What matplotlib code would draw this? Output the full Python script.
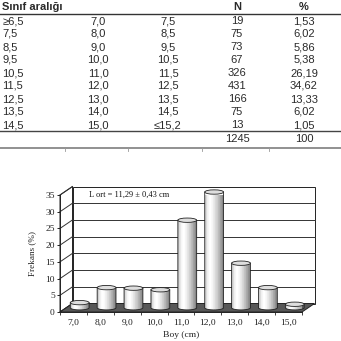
import matplotlib
matplotlib.use("Agg")
import matplotlib.pyplot as plt
from matplotlib.patches import Rectangle, Ellipse, Polygon, PathPatch
from matplotlib.path import Path
from matplotlib.lines import Line2D
import numpy as np

# ---------------- data ----------------
class_low = ["≥6,5", "7,5", "8,5", "9,5", "10,5", "11,5", "12,5", "13,5", "14,5"]
class_mid = ["7,0", "8,0", "9,0", "10,0", "11,0", "12,0", "13,0", "14,0", "15,0"]
class_high = ["7,5", "8,5", "9,5", "10,5", "11,5", "12,5", "13,5", "14,5", "≤15,2"]
counts = [19, 75, 73, 67, 326, 431, 166, 75, 13]
percent_labels = ["1,53", "6,02", "5,86", "5,38", "26,19", "34,62", "13,33", "6,02", "1,05"]
total_n = "1245"
total_pct = "100"

freq = [1.53, 6.02, 5.86, 5.38, 26.19, 34.62, 13.33, 6.02, 1.05]
y_ticks = [0, 5, 10, 15, 20, 25, 30, 35]
note_text = "L ort = 11,29 ± 0,43 cm"

# ---------------- figure ----------------
W = H = 341
fig = plt.figure(figsize=(W / 100, H / 100), dpi=100)
fig.patch.set_facecolor("white")


def fy(ypx):
    return 1 - ypx / H


def fx(xpx):
    return xpx / W


# ---------------- table ----------------
tfont = dict(family="Liberation Sans", fontsize=8.0, color="#2a2a2a")
col_x = [2.5, 98, 168, 237, 304]
fig.text(fx(2.5), fy(7), "Sınıf aralığı", ha="left", va="center",
         fontweight="bold", **tfont)
fig.text(fx(col_x[3]), fy(7), "N", ha="center", va="center", fontweight="bold", **tfont)
fig.text(fx(col_x[4]), fy(7), "%", ha="center", va="center", fontweight="bold", **tfont)
fig.add_artist(Line2D([0, 1], [fy(13.5), fy(13.5)], color="#333333", lw=1.0,
                      transform=fig.transFigure))
row0, dy = 21.0, 13.0
for i in range(len(counts)):
    y = fy(row0 + dy * i)
    fig.text(fx(col_x[0]), y, class_low[i], ha="left", va="center", **tfont)
    fig.text(fx(col_x[1]), y, class_mid[i], ha="center", va="center", **tfont)
    fig.text(fx(col_x[2]), y, class_high[i], ha="center", va="center", **tfont)
    fig.text(fx(col_x[3]), y, str(counts[i]), ha="center", va="center", **tfont)
    fig.text(fx(col_x[4]), y, percent_labels[i], ha="center", va="center", **tfont)
fig.add_artist(Line2D([0, 1], [fy(131), fy(131)], color="#444444", lw=1.0,
                      transform=fig.transFigure))
fig.text(fx(col_x[3]), fy(139), total_n, ha="center", va="center", **tfont)
fig.text(fx(col_x[4]), fy(139), total_pct, ha="center", va="center", **tfont)
fig.add_artist(Line2D([0, 1], [fy(148), fy(148)], color="#888888", lw=1.3,
                      transform=fig.transFigure))
for xs in [65, 128, 202, 269]:
    fig.add_artist(Line2D([fx(xs), fx(xs)], [fy(148), fy(151)], color="#999999",
                          lw=0.6, transform=fig.transFigure))

# ---------------- chart ----------------
x0, x1, ytop, ybot = 60, 302, 195, 312
ax = fig.add_axes([fx(x0), fy(ybot), (x1 - x0) / W, (ybot - ytop) / H])
n = len(freq)
ax.set_xlim(-0.5, n - 0.5)
ax.set_ylim(0, 35)
ax.set_facecolor("none")

px_per_x = (x1 - x0) / n
px_per_y = (ybot - ytop) / 35.0
DDX = 12.5 / px_per_x
DDY = 8.5 / px_per_y
xl, xr = -0.5, n - 0.5

# back wall
ax.add_patch(Rectangle((xl + DDX, DDY), n, 35, fc="white", ec="#222222",
                       lw=0.7, clip_on=False, zorder=0.5))
for t in y_ticks[1:-1]:
    ax.plot([xl + DDX, xr + DDX], [t + DDY, t + DDY], color="#333333", lw=0.7,
            clip_on=False, zorder=0.6)
# left wall
ax.add_patch(Polygon([(xl, 0), (xl + DDX, DDY), (xl + DDX, 35 + DDY), (xl, 35)],
                     closed=True, fc="white", ec="#222222", lw=0.7,
                     clip_on=False, zorder=0.5))
for t in y_ticks:
    ax.plot([xl, xl + DDX], [t, t + DDY], color="#333333", lw=0.7,
            clip_on=False, zorder=0.6)
# floor
ax.add_patch(Polygon([(xl, 0), (xr, 0), (xr + DDX, DDY), (xl + DDX, DDY)],
                     closed=True, fc="#575757", ec="#222222", lw=0.7,
                     clip_on=False, zorder=1))

ax.text(xl + DDX + 0.62, 35.0, note_text, ha="left", va="center",
        family="Liberation Serif", fontsize=6.0, color="#111111", zorder=3)

# cylinders
w = 0.7
eh = 1.3
nstripe = 28


def shade(t):
    if t < 0.3:
        return 1.0 - 0.28 * ((0.3 - t) / 0.3) ** 2
    return 1.0 - 0.52 * ((t - 0.3) / 0.7) ** 1.4


theta = np.linspace(np.pi, 2 * np.pi, 30)
for i, v in enumerate(freq):
    cx = i + DDX / 2
    yb = DDY / 2
    left, right = cx - w / 2, cx + w / 2
    verts = [(left, yb + v), (left, yb)]
    verts += [(cx + w / 2 * np.cos(th), yb + eh / 2 * np.sin(th)) for th in theta]
    verts += [(right, yb + v), (left, yb + v)]
    codes = [Path.MOVETO] + [Path.LINETO] * (len(verts) - 2) + [Path.CLOSEPOLY]
    body = Path(verts, codes)
    clipper = PathPatch(body, fc="none", ec="none", transform=ax.transData)
    ax.add_patch(clipper)
    sw = w / nstripe
    for k in range(nstripe):
        g = shade((k + 0.5) / nstripe)
        r = Rectangle((left + k * sw, yb - eh), sw * 1.05, v + eh,
                      fc=(g, g, g), ec="none", clip_on=True, zorder=2)
        ax.add_patch(r)
        r.set_clip_path(clipper)
    ax.add_patch(PathPatch(body, fc="none", ec="#222222", lw=0.6, zorder=2.1,
                           clip_on=False))
    ax.add_patch(Ellipse((cx, yb + v), w, eh, fc="#dedede", ec="#222222",
                         lw=0.6, zorder=2.2, clip_on=False))

# axes decorations
for s in ["top", "right"]:
    ax.spines[s].set_visible(False)
ax.spines["left"].set_color("#222222")
ax.spines["left"].set_linewidth(0.7)
ax.spines["bottom"].set_color("#222222")
ax.spines["bottom"].set_linewidth(0.7)
ax.spines["left"].set_zorder(3)
ax.set_yticks(y_ticks)
ax.set_yticklabels([str(t) for t in y_ticks])
ax.set_xticks(range(n))
ax.set_xticklabels(class_mid)
ax.set_xticks(np.arange(n + 1) - 0.5, minor=True)
ax.tick_params(axis="y", length=2.5, width=0.7, pad=1.2, labelsize=6.8,
               colors="#222222")
ax.tick_params(axis="x", which="major", length=0, pad=5, labelsize=6.8,
               colors="#222222")
ax.tick_params(axis="x", which="minor", length=2.2, width=0.6, colors="#222222")
for lab in ax.get_xticklabels() + ax.get_yticklabels():
    lab.set_family("Liberation Serif")
ax.set_ylabel("Frekans (%)", family="Liberation Serif", fontsize=6.6, color="#222222")
ax.yaxis.set_label_coords(-0.10, 0.5)
ax.set_xlabel("Boy (cm)", family="Liberation Serif", fontsize=6.8, color="#222222")
ax.xaxis.set_label_coords(0.5, -0.165)

fig.savefig("out.png", dpi=100, facecolor="white")
